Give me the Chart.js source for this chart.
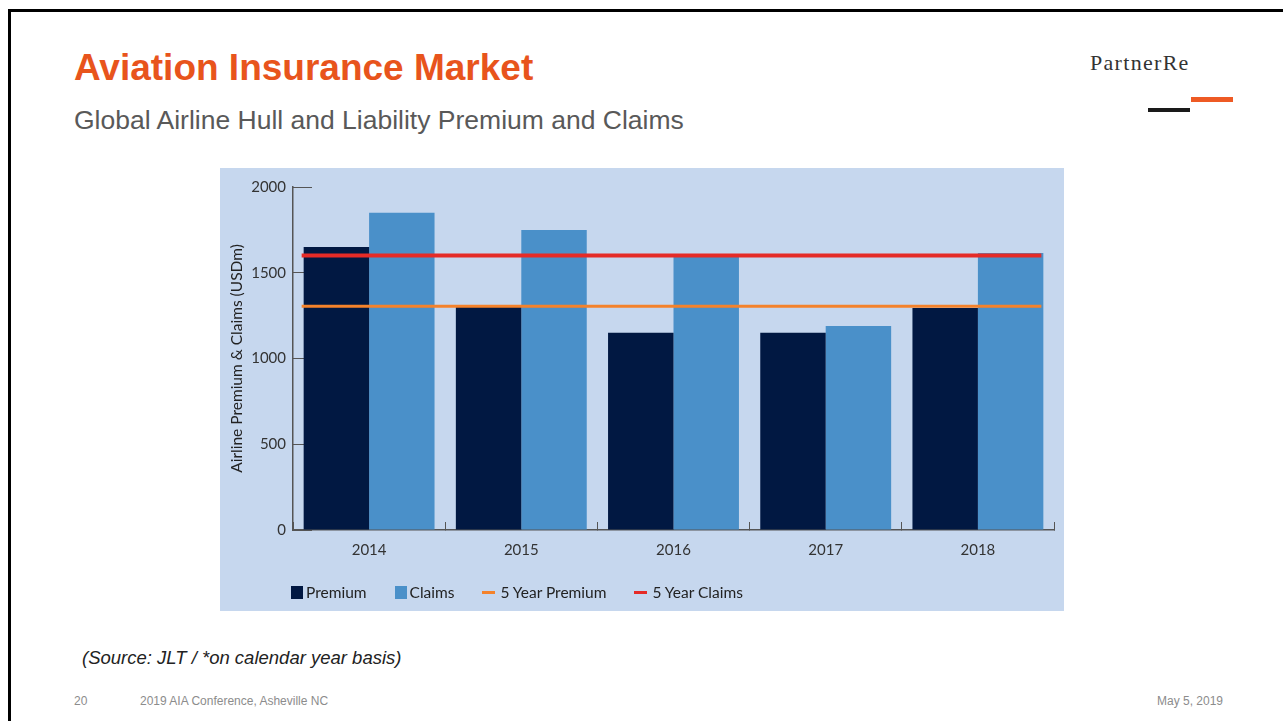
<!DOCTYPE html>
<html>
<head>
<meta charset="utf-8">
<script src="https://cdn.jsdelivr.net/npm/chart.js@4"></script>
<style>
  body { margin: 0; width: 1283px; height: 721px; overflow: hidden; background: #fff; font-family: "Liberation Sans", Arial, sans-serif; position: relative; }
  .frame { position: absolute; left: 8px; top: 9px; width: 1300px; height: 740px; border: 3px solid #000; }
  .title { position: absolute; left: 74px; top: 47px; font-size: 37px; font-weight: bold; color: #e8541c; }
  .subtitle { position: absolute; left: 74px; top: 105px; font-size: 26.5px; color: #595959; }
  .logo { position: absolute; left: 1090px; top: 50px; font-family: "Liberation Serif", serif; font-size: 22px; letter-spacing: 1.3px; color: #333; }
  .bar1 { position: absolute; left: 1148px; top: 108px; width: 42px; height: 4px; background: #1a1a1a; }
  .bar2 { position: absolute; left: 1191px; top: 97px; width: 42px; height: 5px; background: #ee5a24; }
  .panel { position: absolute; left: 220px; top: 168px; width: 844px; height: 443px; background: #c6d7ee; }
  .panel canvas { position: absolute; left: 0; top: -16px; }
  .legend { position: absolute; left: 291px; top: 583px; display: flex; align-items: center; font-family: Lato, sans-serif; font-size: 15.5px; color: #222; }
  .legend .item { display: flex; align-items: center; margin-right: 28px; }
  .legend .sw { margin-right: 3px; }
  .source { position: absolute; left: 82px; top: 647px; font-size: 18.5px; font-style: italic; color: #222; }
  .foot { position: absolute; top: 694px; font-size: 12px; color: #8c8c8c; }
</style>
</head>
<body>
<div class="frame"></div>
<div class="title">Aviation Insurance Market</div>
<div class="subtitle">Global Airline Hull and Liability Premium and Claims</div>
<div class="logo">PartnerRe</div>
<div class="bar1"></div>
<div class="bar2"></div>
<div class="panel"><canvas id="chart" width="844" height="459"></canvas></div>
<div class="legend" id="legend"></div>
<div class="source">(Source: JLT / *on calendar year basis)</div>
<div class="foot" style="left:74px">20</div>
<div class="foot" style="left:140px">2019 AIA Conference, Asheville NC</div>
<div class="foot" style="left:1157px">May 5, 2019</div>

<script>
const years = ["2014", "2015", "2016", "2017", "2018"];
const premium = [1650, 1300, 1150, 1150, 1295];
const claims = [1850, 1750, 1600, 1190, 1615];
const avgPremium = [1305, 1305, 1305, 1305, 1305];
const avgClaims = [1600, 1600, 1600, 1600, 1600];
const yTicks = [0, 500, 1000, 1500, 2000];

const tickFont = { family: "Lato", size: 15 };

// 5-year lines run across the full width of the bar groups
const avgLines = {
    id: "avgLines",
    afterDatasetsDraw(chart) {
        const ctx = chart.ctx;
        const y = chart.scales.y;
        const first = chart.getDatasetMeta(0).data[0];
        const last = chart.getDatasetMeta(1).data[years.length - 1];
        const x1 = first.x - first.width / 2 - 2;
        const x2 = last.x + last.width / 2 - 2;
        chart.data.datasets.forEach(ds => {
            if (ds.type !== "line") return;
            const py = y.getPixelForValue(ds.data[0]);
            ctx.save();
            ctx.strokeStyle = ds.borderColor;
            ctx.lineWidth = ds.borderWidth;
            ctx.beginPath();
            ctx.moveTo(x1, py);
            ctx.lineTo(x2, py);
            ctx.stroke();
            ctx.restore();
        });
    }
};

const chart = new Chart(document.getElementById("chart"), {
    type: "bar",
    data: {
        labels: years,
        datasets: [
            { label: "Premium", data: premium, backgroundColor: "#011842" },
            { label: "Claims", data: claims, backgroundColor: "#4a90c9" },
            { type: "line", label: "5 Year Premium", data: avgPremium, borderColor: "#f4822b", borderWidth: 3, showLine: false, pointRadius: 0, pointHoverRadius: 0 },
            { type: "line", label: "5 Year Claims", data: avgClaims, borderColor: "#e52b27", borderWidth: 4, showLine: false, pointRadius: 0, pointHoverRadius: 0 }
        ]
    },
    options: {
        responsive: false,
        animation: false,
        layout: { padding: { left: 0, right: 10, top: 2, bottom: 51 } },
        datasets: { bar: { categoryPercentage: 0.86, barPercentage: 1.0 } },
        plugins: { legend: { display: false }, tooltip: { enabled: false } },
        scales: {
            x: {
                grid: { drawOnChartArea: false, drawTicks: true, tickLength: -8, color: "#555", offset: true },
                border: { color: "#555", width: 1.5 },
                ticks: { font: tickFont, color: "#333", padding: 19 },
                afterFit: s => { s.height = 30; }
            },
            y: {
                min: 0,
                max: 2000,
                afterBuildTicks: s => { s.ticks = yTicks.map(v => ({ value: v })); },
                grid: { drawOnChartArea: false, drawTicks: true, tickLength: -19, color: "#555" },
                border: { color: "#555", width: 1.5 },
                ticks: { font: tickFont, color: "#333", padding: 26, callback: v => String(v) },
                title: { display: true, text: "Airline Premium & Claims (USDm)", font: { family: "Lato", size: 15.5 }, color: "#222", padding: { top: 8, bottom: 0 } },
                afterFit: s => { s.width = 73; }
            }
        }
    },
    plugins: [avgLines]
});

// legend built from the chart's datasets
const legend = document.getElementById("legend");
chart.data.datasets.forEach(ds => {
    const item = document.createElement("div");
    item.className = "item";
    const sw = document.createElement("span");
    sw.className = "sw";
    if (ds.type === "line") {
        sw.style.cssText = `display:inline-block;width:13px;height:3px;background:${ds.borderColor};margin-right:5px`;
    } else {
        sw.style.cssText = `display:inline-block;width:12px;height:13px;background:${ds.backgroundColor}`;
    }
    item.appendChild(sw);
    item.appendChild(document.createTextNode(ds.label));
    legend.appendChild(item);
});
</script>
</body>
</html>
